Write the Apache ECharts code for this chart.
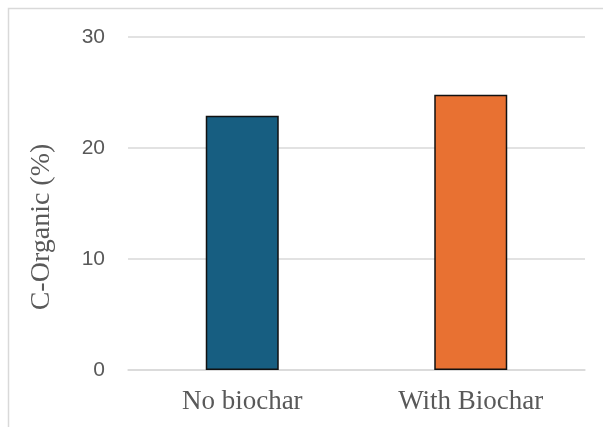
<!DOCTYPE html>
<html>
<head>
<meta charset="utf-8">
<script src="https://cdn.jsdelivr.net/npm/echarts@6/dist/echarts.min.js"></script>
<style>
  html, body { margin: 0; padding: 0; background: #fff; }
  #chart { width: 603px; height: 427px; }
</style>
</head>
<body>
<div id="chart"></div>
<script>
var categories = ['No biochar', 'With Biochar'];
var values = [22.9, 24.8];
var barColors = ['#175e81', '#e87132'];
var yTicks = [0, 10, 20, 30];

var chart = echarts.init(document.getElementById('chart'));

chart.setOption({
    animation: false,
    backgroundColor: '#ffffff',
    graphic: [{
        type: 'rect',
        shape: { x: 8.5, y: 8.5, width: 620, height: 440 },
        style: { fill: 'none', stroke: '#d9d9d9', lineWidth: 1.5 },
        silent: true
    }],
    grid: { left: 128, right: 18, top: 37, bottom: 57 },
    xAxis: {
        type: 'category',
        data: categories,
        axisLine: { lineStyle: { color: '#d9d9d9', width: 1.5 } },
        axisTick: { show: false },
        axisLabel: {
            margin: 18,
            color: '#595959',
            fontFamily: 'Liberation Serif',
            fontSize: 27
        }
    },
    yAxis: {
        type: 'value',
        min: yTicks[0],
        max: yTicks[yTicks.length - 1],
        interval: 10,
        name: 'C-Organic (%)',
        nameLocation: 'middle',
        nameGap: 72,
        nameTextStyle: {
            color: '#595959',
            fontFamily: 'Liberation Serif',
            fontSize: 28,
            padding: [0, 47, 0, 0]
        },
        axisLine: { show: false },
        axisTick: { show: false },
        splitLine: { lineStyle: { color: '#d9d9d9', width: 1.5 } },
        axisLabel: {
            margin: 23,
            color: '#595959',
            fontFamily: 'Liberation Sans',
            fontSize: 21
        }
    },
    series: [{
        type: 'bar',
        barWidth: 73,
        data: values.map(function (v, i) {
            return {
                value: v,
                itemStyle: { color: barColors[i], borderColor: '#111', borderWidth: 1.5 }
            };
        })
    }]
});
</script>
</body>
</html>
